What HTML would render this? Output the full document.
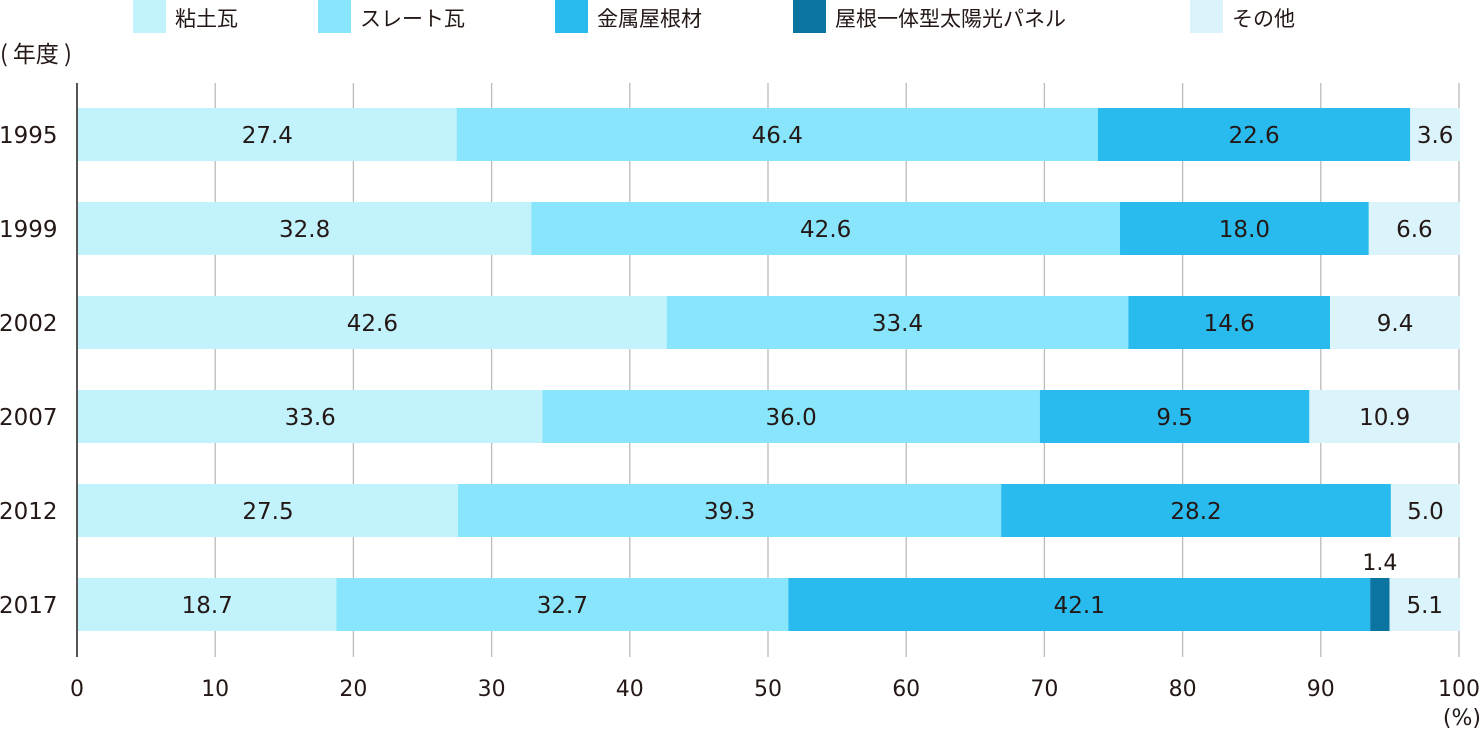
<!DOCTYPE html>
<html><head><meta charset="utf-8"><style>
html,body{margin:0;padding:0;background:#fff;}
svg text{font-family:"DejaVu Sans","Noto Sans CJK JP",sans-serif;fill:#231815;}
svg text.j{font-family:"Noto Sans CJK JP",sans-serif;}
</style></head><body>
<svg id="c" width="1482" height="730" xmlns="http://www.w3.org/2000/svg"></svg>
<script>
const s=document.getElementById('c');
let h='';
const x0=77,sc=13.82;
const cols=['#c2f2fc','#88e5fc','#29bbee','#0b74a0','#dbf4fc'];
const leg=[[133,'粘土瓦'],[318,'スレート瓦'],[555,'金属屋根材'],[793,'屋根一体型太陽光パネル'],[1190,'その他']];
leg.forEach((l,i)=>{h+=`<rect x="${l[0]}" y="0" width="33" height="33" fill="${cols[i]}"/><text class="j" x="${l[0]+42}" y="26" font-size="21">${l[1]}</text>`;});
h+=`<text class="j" x="0" y="62" font-size="23">( 年度 )</text>`;
for(let k=0;k<=10;k++){const x=x0+k*10*sc;h+=`<line x1="${x}" y1="83" x2="${x}" y2="657" stroke="${k==0?'#555':'#bbb'}" stroke-width="${k==0?2:1.3}"/>`;
h+=`<text x="${x}" y="696" font-size="22" text-anchor="middle">${k*10}</text>`;}
h+=`<text x="1481" y="725" font-size="22" text-anchor="end">(%)</text>`;
const data=[['1995',[27.4,46.4,22.6,0,3.6]],['1999',[32.8,42.6,18.0,0,6.6]],['2002',[42.6,33.4,14.6,0,9.4]],['2007',[33.6,36.0,19.5,0,10.9],'9.5'],['2012',[27.5,39.3,28.2,0,5.0]],['2017',[18.7,32.7,42.1,1.4,5.1]]];
data.forEach((d,i)=>{const y=108+i*94;let c=0;
h+=`<text x="-1" y="${y+35}" font-size="23">${d[0]}</text>`;
d[1].forEach((v,j)=>{if(!v)return;const xa=x0+1+c*sc;const w=v*sc;h+=`<rect x="${xa}" y="${y}" width="${w}" height="53" fill="${cols[j]}"/>`;
let lab=(j==2&&d[2])?d[2]:v.toFixed(1);
if(j==3)h+=`<text x="${xa+w/2}" y="${y-8}" font-size="22" text-anchor="middle">${lab}</text>`;
else h+=`<text x="${xa+w/2}" y="${y+35}" font-size="23" text-anchor="middle">${lab}</text>`;
c+=v;});});
s.innerHTML=h;
</script>
</body></html>
